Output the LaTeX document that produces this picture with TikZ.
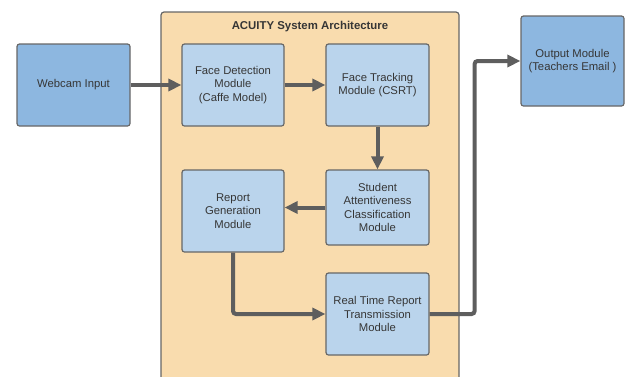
\documentclass[tikz,border=0pt]{standalone}
\usepackage{fontspec}
\setmainfont{Liberation Sans}
\usepackage{tikz}
\usetikzlibrary{arrows.meta,positioning}

\definecolor{boxline}{HTML}{676767}
\definecolor{outerblue}{HTML}{8DB7E0}
\definecolor{innerblue}{HTML}{BAD4EC}
\definecolor{panel}{HTML}{F9DCAE}
\definecolor{flowgray}{HTML}{5E5E5E}
\definecolor{txt}{HTML}{363636}

\tikzset{
  module/.style={draw=boxline,line width=1.2pt,fill=innerblue,rounded corners=2.5pt,
    minimum width=102pt,minimum height=82pt,align=center,text=txt,
    font=\fontsize{11.3}{13.5}\selectfont,inner sep=2pt},
  ionode/.style={module,fill=outerblue},
  flow/.style={draw=flowgray,line width=4pt,rounded corners=3pt,
    -{Triangle[length=13pt,width=12pt]}}
}

\begin{document}
\begin{tikzpicture}[x=1pt,y=-1pt]
    \useasboundingbox (0,0) rectangle (629,376);
    \clip (0,0) rectangle (629,376);
    \draw[draw=boxline,line width=1.2pt,fill=panel,rounded corners=3pt] (161,12) rectangle (459,400);
    \node[text=txt,font=\fontsize{11.4}{13.5}\selectfont\bfseries] (title) at (310,27) {ACUITY System Architecture};

    \node[ionode,minimum width=113pt] (webcam) at (73.5,85) {Webcam Input};
    \node[ionode,minimum width=103pt,minimum height=90pt] (output) at (572.5,61) {Output Module\\(Teachers Email )};

    \node[module] (detect) at (233,85) {Face Detection\\Module\\(Caffe Model)};
    \node[module,minimum width=103pt] (track) at (377.5,85) {Face Tracking\\Module (CSRT)};
    \node[module,minimum width=103pt,minimum height=75pt] (student) at (377.5,207.5) {Student\\Attentiveness\\Classification\\Module};
    \node[module] (report) at (233,211) {Report\\Generation\\Module};
    \node[module,minimum width=103pt] (realtime) at (377.5,314) {Real Time Report\\Transmission\\Module};

    \draw[flow] (webcam.east) -- (detect.west);
    \draw[flow] (detect.east) -- (track.west);
    \draw[flow] (track.south) -- (student.north);
    \draw[flow] (student.west) -- (student.west -| report.east);
    \draw[flow] (report.south) |- (realtime.west);
    \draw[flow] (realtime.east) -- ++(45,0) |- (output.west);
\end{tikzpicture}
\end{document}
